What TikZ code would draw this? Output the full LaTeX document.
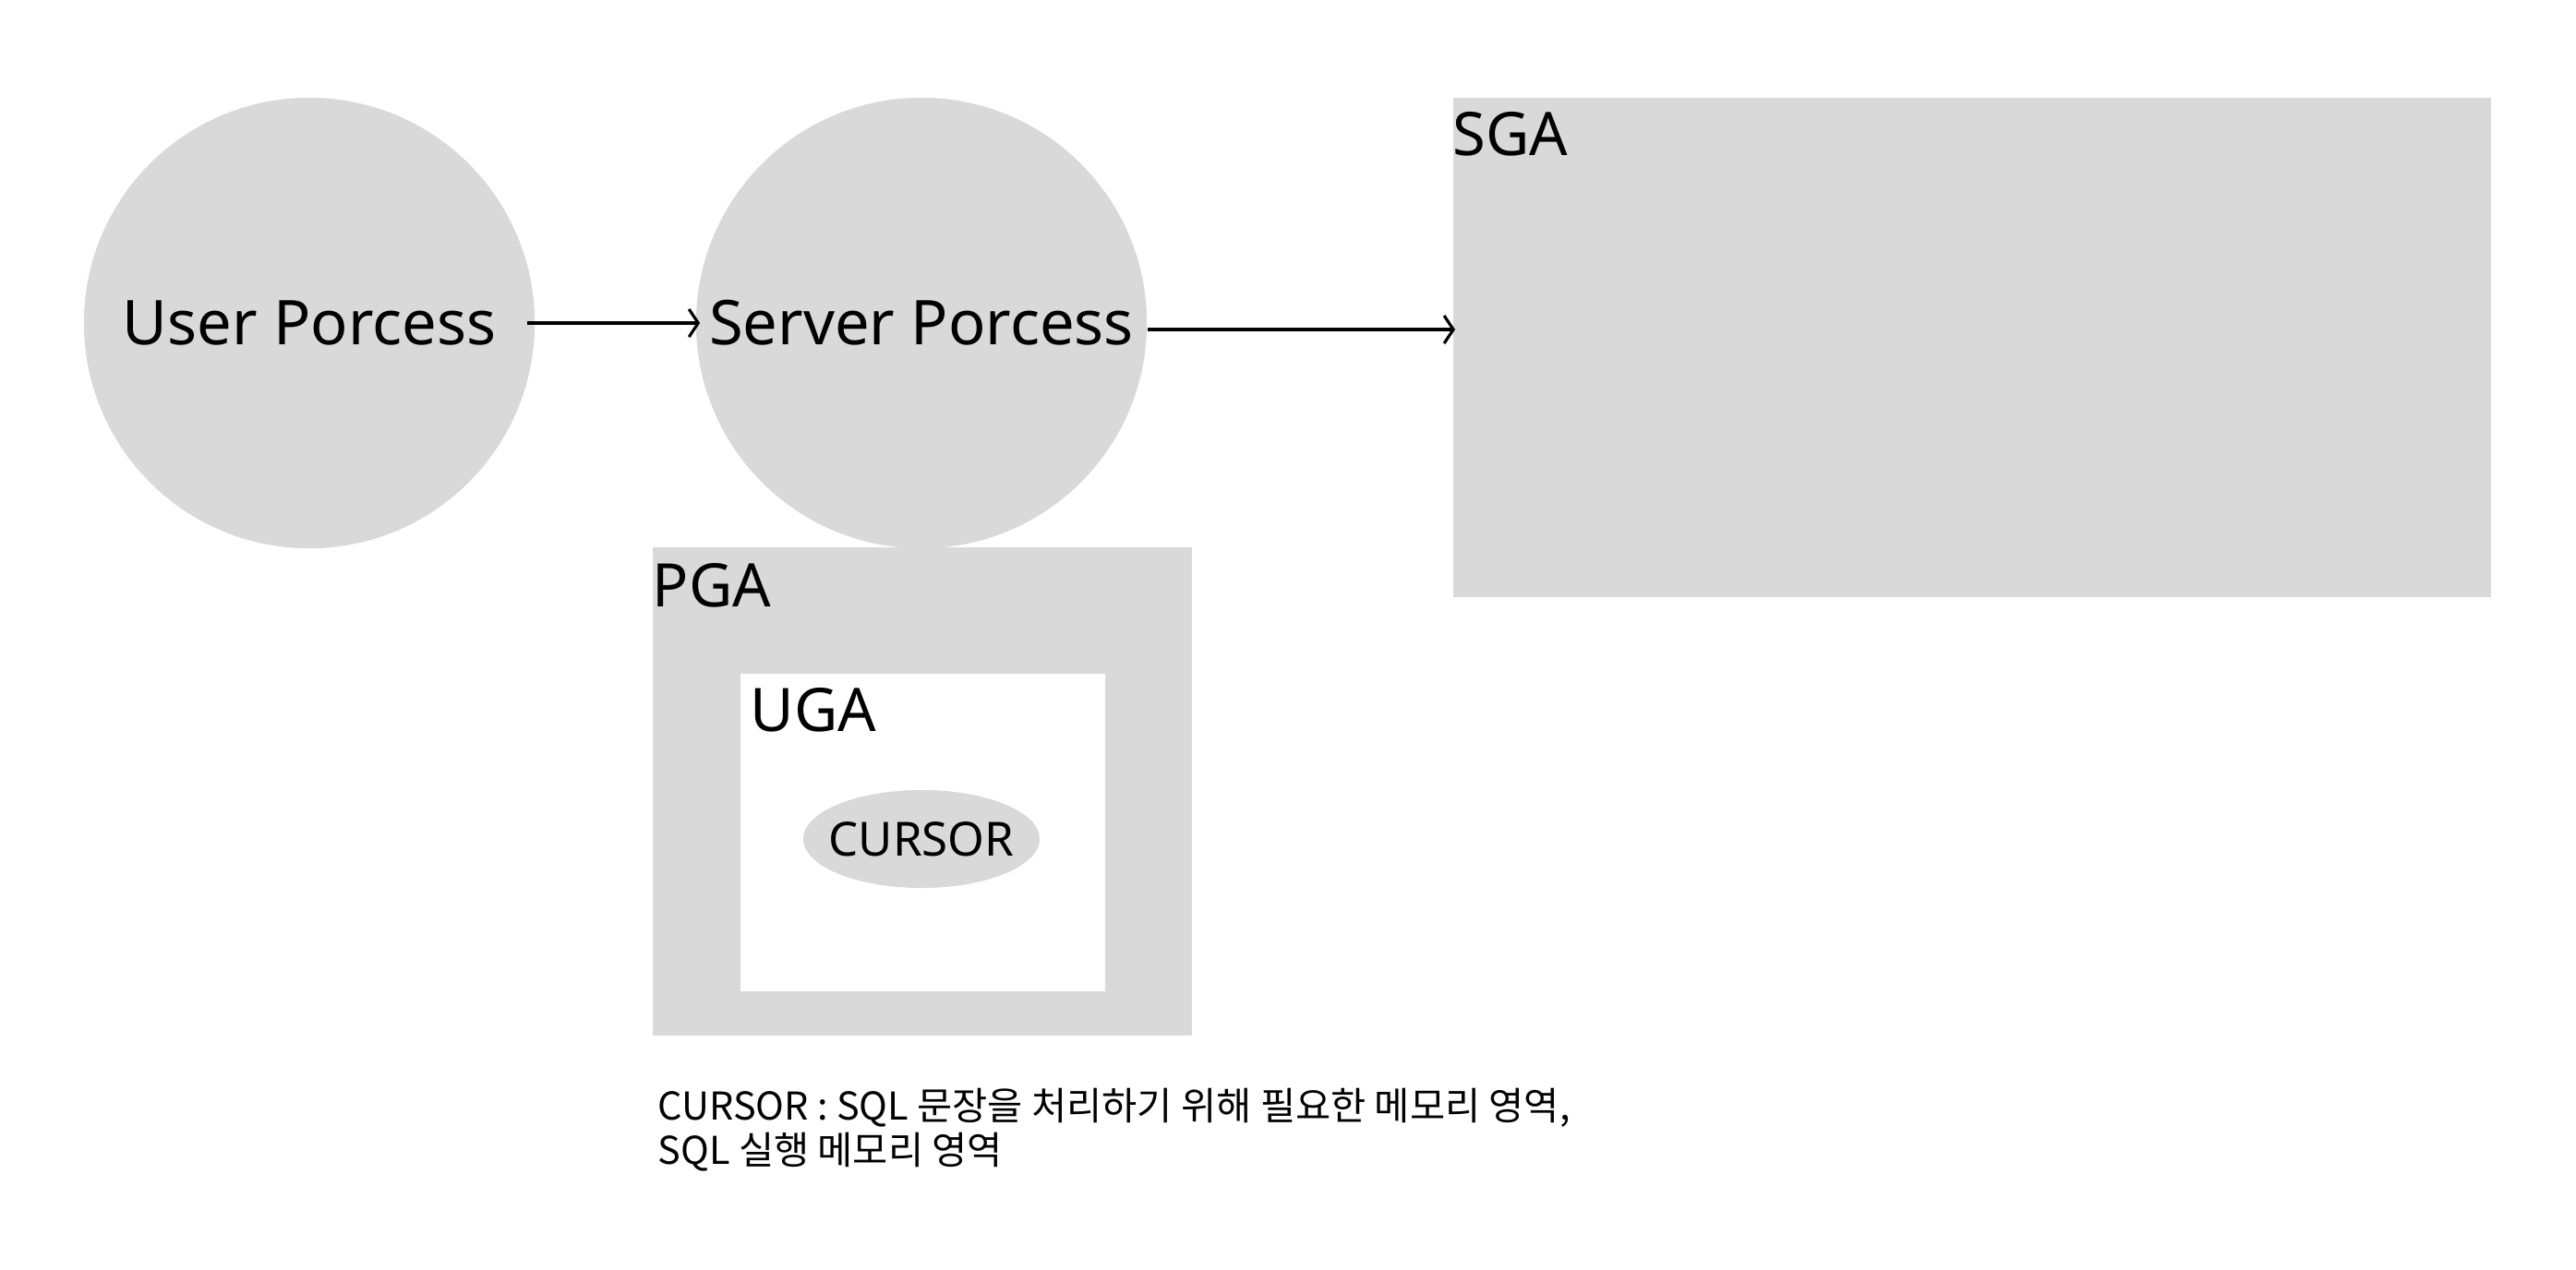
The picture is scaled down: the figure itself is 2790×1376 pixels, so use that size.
\documentclass[tikz,border=0pt]{standalone}
\usepackage{fontspec}
\setmainfont{Noto Sans}
\newfontfamily\kofont{Noto Sans CJK KR}
\usetikzlibrary{shapes.geometric,arrows.meta}
\definecolor{boxgray}{RGB}{217,217,217}
\tikzset{
  proc/.style={circle,fill=boxgray,minimum size=4.88cm,inner sep=0pt,font=\fontsize{19}{22}\selectfont},
  area/.style={fill=boxgray,draw=none},
  arealabel/.style={anchor=north west,inner sep=0pt,font=\fontsize{18.5}{22}\selectfont},
  conn/.style={-{Straight Barb[length=0.1cm,width=0.3cm]},line width=0.9pt}
}
\begin{document}
\begin{tikzpicture}[x=0.01cm,y=-0.01cm]
	\useasboundingbox (0,0) rectangle (2790,1376);
	% processes
	\node[proc] (user)   at (335,350) {User Porcess};
	\node[proc] (server) at (998,350) {Server Porcess};
	% memory areas
	\node[area,minimum width=11.24cm,minimum height=5.41cm,anchor=north west] (sga) at (1573,105) {};
	\node[area,minimum width=5.84cm,minimum height=5.29cm,anchor=north west] (pga) at (706,592) {};
	\node[fill=white,minimum width=3.95cm,minimum height=3.44cm,anchor=north west] (uga) at (801,729) {};
	\node[ellipse,fill=boxgray,inner sep=0pt,minimum width=2.56cm,minimum height=1.06cm] (cursor) at (998,909) {};
	\node[font=\fontsize{14.5}{17}\selectfont] (cursorlbl) at (cursor) {CURSOR};
	\node[arealabel] (sgalbl) at ([yshift=-0.16cm]sga.north west) {SGA};
	\node[arealabel] (pgalbl) at ([yshift=-0.18cm]pga.north west) {PGA};
	\node[arealabel] (ugalbl) at ([xshift=0.11cm,yshift=-0.16cm]uga.north west) {UGA};
	% connectors
	\draw[conn] ([xshift=-0.09cm]user.east) -- ([xshift=0.05cm]server.west);
	\draw[conn] ([yshift=-0.07cm]server.east) -- ([xshift=0.03cm,yshift=-0.07cm]server.east -| sga.west);
	% note
	\node[anchor=north west,inner sep=0pt,align=left,font=\kofont\fontsize{11.8}{13.7}\selectfont] (note) at (712,1178)
		{CURSOR : SQL 문장을 처리하기 위해 필요한 메모리 영역,\\SQL 실행 메모리 영역};
\end{tikzpicture}
\end{document}
